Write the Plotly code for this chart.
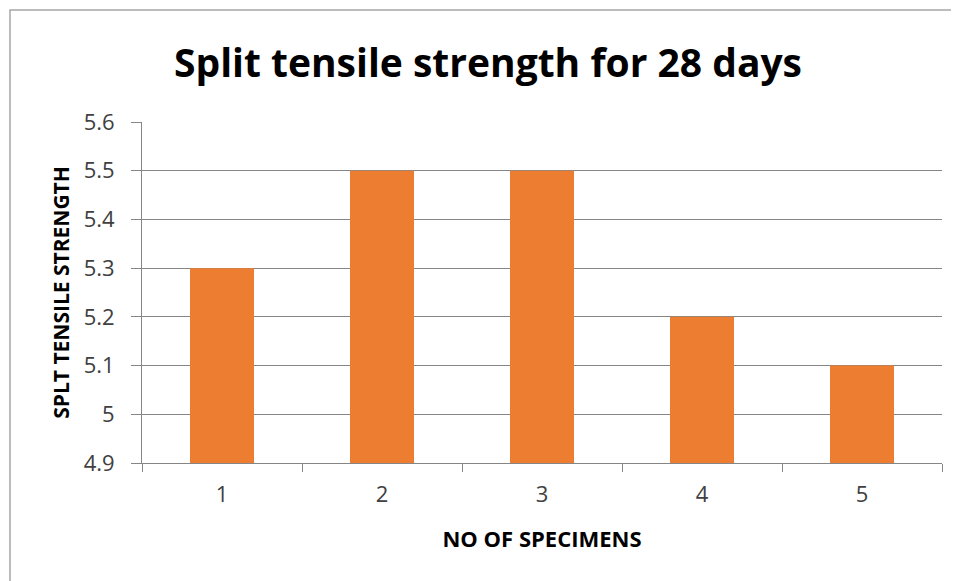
import plotly.graph_objects as go

categories = ["1", "2", "3", "4", "5"]
strength = [5.3, 5.5, 5.5, 5.2, 5.1]
y_ticks = [4.9, 5.0, 5.1, 5.2, 5.3, 5.4, 5.5, 5.6]
y_tick_labels = ["4.9", "5", "5.1", "5.2", "5.3", "5.4", "5.5", "5.6"]

# page body has an 8px margin, so the figure is placed at (8, 8)
OFF = 8
W, H = 959 - OFF, 581 - OFF
L, T = 142 - OFF, 122 - OFF
R = W - (942 - OFF)
B = H - (463 - OFF)
pw, ph = W - L - R, H - T - B

def px_x(x):
    return (x - OFF - L) / pw

def px_y(y):
    return (H - B - (y - OFF)) / ph

FONT = "Open Sans"

fig = go.Figure(go.Bar(
    x=categories, y=strength,
    marker=dict(color="#ED7D31", line=dict(width=0)),
))

fig.update_layout(
    width=W, height=H,
    margin=dict(l=L, r=R, t=T, b=B),
    paper_bgcolor="white", plot_bgcolor="white",
    bargap=0.6,
    showlegend=False,
    title=dict(text="<b>Split tensile strength for 28 days</b>",
               x=(488 - OFF) / W, xanchor="center", xref="container",
               y=1 - (63 - OFF) / H, yanchor="middle",
               font=dict(family=FONT, size=39, color="#000000")),
    font=dict(family=FONT),
)

fig.update_xaxes(
    type="category",
    showgrid=False,
    showline=True, linecolor="#868686", linewidth=1,
    ticks="outside", tickson="boundaries", ticklen=8, tickcolor="#868686",
    ticklabelstandoff=12,
    tickfont=dict(family=FONT, size=22, color="#404040"),
    title=dict(text="<b>NO OF SPECIMENS</b>", font=dict(family=FONT, size=22, color="#000000"), standoff=24),
)

fig.update_yaxes(
    range=[4.9, 5.6],
    tickvals=y_ticks, ticktext=y_tick_labels,
    showgrid=True, gridcolor="#868686", gridwidth=1,
    showline=True, linecolor="#868686", linewidth=1,
    ticks="outside", ticklen=10, tickcolor="#868686",
    ticklabelstandoff=12,
    tickfont=dict(family=FONT, size=22, color="#404040"),
    zeroline=False,
    title=dict(text="<b>SPLT TENSILE STRENGTH</b>", font=dict(family=FONT, size=21, color="#000000"), standoff=8),
)

fig.add_shape(type="rect", xref="paper", yref="paper",
              x0=px_x(10), x1=px_x(990), y0=px_y(600), y1=px_y(10),
              line=dict(color="#A6A6A6", width=1.5), fillcolor="rgba(0,0,0,0)", layer="below")

fig.write_html("out.html")
